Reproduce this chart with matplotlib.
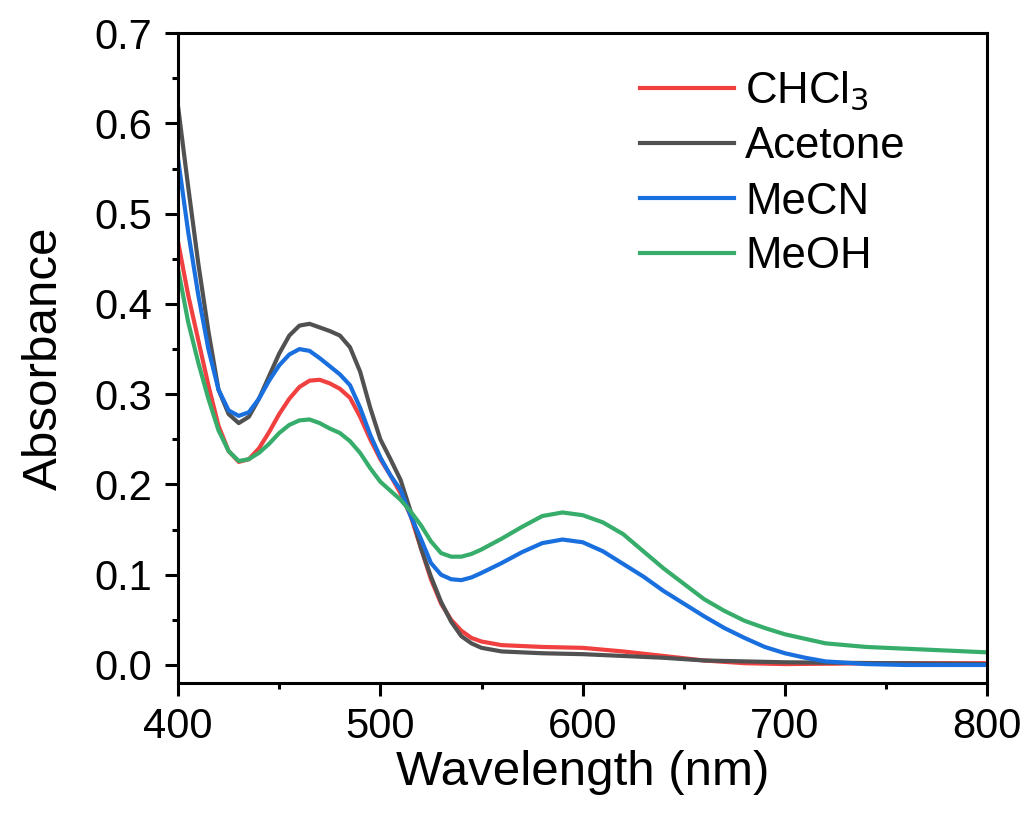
import matplotlib
matplotlib.use('Agg')
import matplotlib.pyplot as plt
from matplotlib.ticker import MultipleLocator, FormatStrFormatter

plt.rcParams['font.family'] = ['Liberation Sans', 'DejaVu Sans']

# Absorbance spectra (wavelength in nm)
wl_chcl3 = [400, 405, 410, 415, 420, 425, 430, 435, 440, 445, 450, 455, 460, 465, 470,
            475, 480, 485, 490, 495, 500, 505, 510, 515, 520, 525, 530, 535, 540, 545,
            550, 560, 580, 600, 620, 640, 660, 680, 700, 750, 800]
abs_chcl3 = [0.469, 0.41, 0.36, 0.31, 0.265, 0.237, 0.225, 0.228, 0.24, 0.258, 0.278, 0.295,
             0.308, 0.315, 0.316, 0.312, 0.306, 0.296, 0.275, 0.25, 0.228, 0.21, 0.19, 0.165,
             0.13, 0.095, 0.068, 0.05, 0.038, 0.03, 0.026, 0.022, 0.020, 0.019, 0.015, 0.010,
             0.005, 0.002, 0.001, 0.002, 0.002]

wl_acetone = [400, 405, 410, 415, 420, 425, 430, 435, 440, 445, 450, 455, 460, 465, 470,
              475, 480, 485, 490, 495, 500, 505, 510, 515, 520, 525, 530, 535, 540, 545,
              550, 560, 580, 600, 620, 640, 660, 680, 700, 750, 800]
abs_acetone = [0.619, 0.53, 0.445, 0.37, 0.305, 0.278, 0.268, 0.275, 0.295, 0.32, 0.345,
               0.365, 0.376, 0.378, 0.374, 0.370, 0.365, 0.352, 0.325, 0.285, 0.25, 0.228,
               0.205, 0.17, 0.13, 0.098, 0.07, 0.048, 0.032, 0.024, 0.019, 0.015, 0.013,
               0.012, 0.010, 0.008, 0.005, 0.004, 0.003, 0.002, 0.001]

wl_mecn = [400, 405, 410, 415, 420, 425, 430, 435, 440, 445, 450, 455, 460, 465, 470, 475,
           480, 485, 490, 495, 500, 505, 510, 515, 520, 525, 530, 535, 540, 545, 550, 560,
           570, 580, 590, 600, 610, 620, 630, 640, 650, 660, 670, 680, 690, 700, 710, 720,
           740, 760, 800]
abs_mecn = [0.561, 0.48, 0.41, 0.35, 0.305, 0.282, 0.276, 0.28, 0.295, 0.315, 0.332, 0.344,
            0.35, 0.348, 0.34, 0.331, 0.322, 0.31, 0.285, 0.255, 0.23, 0.21, 0.194, 0.165,
            0.14, 0.113, 0.1, 0.095, 0.094, 0.097, 0.102, 0.113, 0.125, 0.135, 0.139, 0.136,
            0.126, 0.112, 0.098, 0.082, 0.068, 0.054, 0.041, 0.03, 0.02, 0.013, 0.008,
            0.004, 0.001, 0.0, 0.0]

wl_meoh = [400, 405, 410, 415, 420, 425, 430, 435, 440, 445, 450, 455, 460, 465, 470, 475,
           480, 485, 490, 495, 500, 505, 510, 515, 520, 525, 530, 535, 540, 545, 550, 560,
           570, 580, 590, 600, 610, 620, 630, 640, 650, 660, 670, 680, 690, 700, 720, 740,
           760, 780, 800]
abs_meoh = [0.439, 0.38, 0.335, 0.295, 0.26, 0.237, 0.226, 0.228, 0.235, 0.245, 0.257,
            0.266, 0.271, 0.272, 0.268, 0.262, 0.257, 0.248, 0.235, 0.218, 0.203, 0.193,
            0.183, 0.17, 0.155, 0.137, 0.124, 0.12, 0.12, 0.123, 0.128, 0.14, 0.153, 0.165,
            0.169, 0.166, 0.158, 0.145, 0.126, 0.107, 0.09, 0.073, 0.06, 0.049, 0.041, 0.034,
            0.024, 0.02, 0.018, 0.016, 0.014]

fig = plt.figure(figsize=(10.25, 8.19), dpi=100)
ax = fig.add_axes([0.1737, 0.166, 0.7895, 0.7935])

lw = 3.0
ax.plot(wl_chcl3, abs_chcl3, color='#F14040', lw=lw, label='CHCl$_3$')
ax.plot(wl_acetone, abs_acetone, color='#515151', lw=lw, label='Acetone')
ax.plot(wl_mecn, abs_mecn, color='#1A6FDF', lw=lw, label='MeCN')
ax.plot(wl_meoh, abs_meoh, color='#37AD6B', lw=lw, label='MeOH')

ax.set_xlim(400, 800)
ax.set_ylim(-0.02, 0.7)
ax.xaxis.set_major_locator(MultipleLocator(100))
ax.xaxis.set_minor_locator(MultipleLocator(50))
ax.yaxis.set_major_locator(MultipleLocator(0.1))
ax.yaxis.set_minor_locator(MultipleLocator(0.05))
ax.yaxis.set_major_formatter(FormatStrFormatter('%.1f'))

for s in ax.spines.values():
    s.set_linewidth(2.2)
ax.tick_params(which='major', length=9.5, width=2.2, labelsize=30)
ax.tick_params(axis='y', which='major', pad=9)
ax.tick_params(axis='x', which='major', pad=8)
ax.tick_params(which='minor', length=4.2, width=2.2)

ax.set_xlabel('Wavelength (nm)', fontsize=35.5, labelpad=2)
ax.set_ylabel('Absorbance', fontsize=35.5, labelpad=20)

ax.legend(loc='upper left', frameon=False, fontsize=31.5, handlelength=2.15,
          handletextpad=0.25, labelspacing=0.32, borderpad=0, borderaxespad=0,
          bbox_to_anchor=(640 / 1025, 1 - 70 / 819), bbox_transform=fig.transFigure)

fig.savefig('out.png', dpi=100)
